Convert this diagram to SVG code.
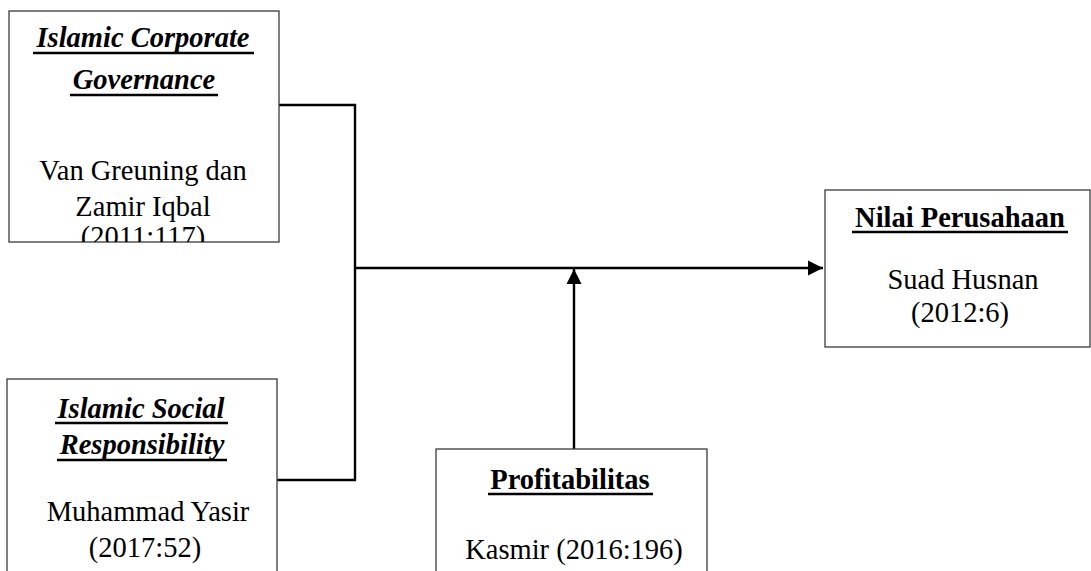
<svg xmlns="http://www.w3.org/2000/svg" width="1091" height="571" viewBox="0 0 1091 571">
<style>
  .box { fill: #ffffff; stroke: #3a3a3a; stroke-width: 1.3; }
  .t { font-family: "Liberation Serif", "Times New Roman", serif; font-size: 28.5px; fill: #000; text-anchor: middle; }
  .bi { font-weight: bold; font-style: italic; }
  .b { font-weight: bold; }
  .ul { stroke: #000; stroke-width: 2.4; }
  .conn { stroke: #000; stroke-width: 2.4; fill: none; }
</style>
<defs>
  <marker id="arrow" viewBox="0 0 10 10" refX="10" refY="5" markerWidth="6.3" markerHeight="6.3" markerUnits="strokeWidth" orient="auto">
    <path d="M0,0 L10,5 L0,10 Z" fill="#000"/>
  </marker>
  <clipPath id="clip1"><rect x="9" y="11" width="270" height="231"/></clipPath>
</defs>
<rect width="1091" height="571" fill="#ffffff"/>
<g id="connectors">
  <polyline class="conn" points="279,105 355,105 355,480 277,480"/>
  <line class="conn" x1="355" y1="268" x2="823" y2="268" marker-end="url(#arrow)"/>
  <line class="conn" x1="574" y1="449" x2="574" y2="269" marker-end="url(#arrow)"/>
</g>
<g id="node-icg">
  <rect class="box" x="9" y="11" width="270" height="231"/>
  <text class="t bi" x="143" y="47">Islamic Corporate</text>
  <line class="ul" x1="33" y1="53" x2="254" y2="53"/>
  <text class="t bi" x="144" y="89">Governance</text>
  <line class="ul" x1="70" y1="95" x2="218" y2="95"/>
  <text class="t" x="143" y="180">Van Greuning dan</text>
  <text class="t" x="143" y="216">Zamir Iqbal</text>
  <text class="t" x="143" y="246" clip-path="url(#clip1)">(2011:117)</text>
</g>
<g id="node-isr">
  <rect class="box" x="7" y="379" width="270" height="200"/>
  <text class="t bi" x="141" y="418">Islamic Social</text>
  <line class="ul" x1="55" y1="423" x2="228" y2="423"/>
  <text class="t bi" x="142" y="454">Responsibility</text>
  <line class="ul" x1="57" y1="460" x2="227" y2="460"/>
  <text class="t" x="148" y="521">Muhammad Yasir</text>
  <text class="t" x="145" y="557">(2017:52)</text>
</g>
<g id="node-profit">
  <rect class="box" x="436" y="449" width="271" height="130"/>
  <text class="t b" x="570" y="489">Profitabilitas</text>
  <line class="ul" x1="488" y1="494" x2="653" y2="494"/>
  <text class="t" x="574" y="559">Kasmir (2016:196)</text>
</g>
<g id="node-nilai">
  <rect class="box" x="825" y="190" width="265" height="157"/>
  <text class="t b" x="960" y="227">Nilai Perusahaan</text>
  <line class="ul" x1="852" y1="232" x2="1068" y2="232"/>
  <text class="t" x="963" y="289">Suad Husnan</text>
  <text class="t" x="960" y="322">(2012:6)</text>
</g>
</svg>
